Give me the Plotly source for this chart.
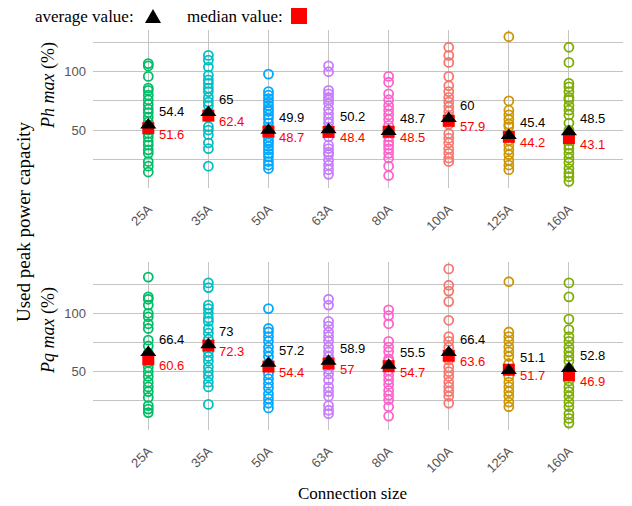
import plotly.graph_objects as go

# Connection sizes and their colours
sizes = ["25A", "35A", "50A", "63A", "80A", "100A", "125A", "160A"]
colors = ["#00BE67", "#00BFC4", "#00A9FF", "#C77CFF",
          "#FF61CC", "#F8766D", "#CD9600", "#7CAE00"]

# Used peak power capacity, Ph max (%)
ph_25A = [107, 105, 96, 86, 84, 80, 76, 72, 68, 65, 61, 57, 54, 52, 50, 47, 44, 40, 37, 33, 30, 23, 19, 14]
ph_35A = [114, 110, 104, 97, 93, 90, 86, 83, 78, 74, 71, 65, 62, 61, 53, 50, 46, 39, 34, 19]
ph_50A = [98, 83, 80, 77, 74, 71, 68, 66, 63, 60, 56, 52, 50, 47, 44, 41, 39, 36, 33, 30, 27, 23, 20, 17]
ph_63A = [105, 100, 84, 81, 78, 76, 73, 68, 64, 60, 56, 52, 49, 44, 37, 34, 31, 29, 24, 20, 16, 12]
ph_80A = [96, 91, 81, 76, 71, 67, 63, 59, 54, 50, 48, 44, 40, 37, 34, 30, 26, 19, 11]
ph_100A = [121, 114, 108, 96, 88, 83, 78, 74, 70, 66, 62, 58, 55, 47, 43, 39, 34, 30, 26, 23]
ph_125A = [130, 75, 67, 63, 59, 55, 53, 46, 44, 41, 37, 33, 29, 24, 20, 16]
ph_160A = [121, 108, 90, 87, 83, 78, 76, 71, 67, 63, 56, 50, 48, 43, 41, 37, 34, 30, 26, 22, 17, 13, 10, 6]
ph_avg = [54.4, 65, 49.9, 50.2, 48.7, 60, 45.4, 48.5]
ph_med = [51.6, 62.4, 48.7, 48.4, 48.5, 57.9, 44.2, 43.1]

# Used peak power capacity, Pq max (%)
pq_25A = [131, 114, 112, 107, 100, 97, 91, 87, 77, 72, 66, 61, 58, 54, 50, 46, 41, 37, 33, 28, 21, 18, 15]
pq_35A = [126, 122, 107, 104, 100, 96, 93, 87, 83, 78, 73, 72, 67, 63, 59, 54, 50, 46, 41, 37, 22]
pq_50A = [104, 87, 84, 80, 76, 71, 67, 63, 57, 54, 48, 44, 40, 36, 31, 27, 23, 19]
pq_63A = [112, 107, 93, 89, 84, 80, 76, 71, 67, 63, 59, 57, 52, 48, 43, 37, 33, 29, 21, 17, 14]
pq_80A = [103, 98, 91, 76, 71, 67, 61, 59, 55, 51, 47, 43, 39, 34, 30, 26, 20, 12]
pq_100A = [138, 124, 119, 110, 94, 80, 76, 71, 66, 64, 60, 54, 50, 46, 41, 37, 33, 29, 23]
pq_125A = [127, 84, 80, 76, 71, 67, 63, 57, 52, 51, 46, 41, 37, 33, 29, 24, 20]
pq_160A = [126, 114, 95, 86, 80, 76, 71, 67, 63, 59, 53, 47, 42, 37, 33, 29, 24, 20, 14, 10, 6]
pq_avg = [66.4, 73, 57.2, 58.9, 55.5, 66.4, 51.1, 52.8]
pq_med = [60.6, 72.3, 54.4, 57, 54.7, 63.6, 51.7, 46.9]

ph_points = [ph_25A, ph_35A, ph_50A, ph_63A, ph_80A, ph_100A, ph_125A, ph_160A]
pq_points = [pq_25A, pq_35A, pq_50A, pq_63A, pq_80A, pq_100A, pq_125A, pq_160A]

SERIF = "Liberation Serif, Times New Roman, serif"
SANS = "Liberation Sans, Arial, sans-serif"

fig = go.Figure()
annotations = []

panels = [
    (ph_points, ph_avg, ph_med, "x", "y"),
    (pq_points, pq_avg, pq_med, "x2", "y2"),
]
for pts, avg, med, xa, ya in panels:
    for cat, col, vals in zip(sizes, colors, pts):
        fig.add_trace(go.Scatter(
            x=[cat] * len(vals), y=vals, mode="markers",
            marker=dict(symbol="circle-open", size=9, color=col,
                        line=dict(width=1.8, color=col)),
            xaxis=xa, yaxis=ya, showlegend=False, hoverinfo="y"))
    fig.add_trace(go.Scatter(
        x=sizes, y=med, mode="markers",
        marker=dict(symbol="square", size=12, color="#FF0000"),
        xaxis=xa, yaxis=ya, showlegend=False))
    fig.add_trace(go.Scatter(
        x=sizes, y=avg, mode="markers",
        marker=dict(symbol="triangle-up", size=14, color="black"),
        xaxis=xa, yaxis=ya, showlegend=False))
    for cat, a, m in zip(sizes, avg, med):
        annotations.append(dict(
            x=cat, y=a, xref=xa, yref=ya, text=f"{a:g}", showarrow=False,
            xanchor="left", yanchor="middle", xshift=9, yshift=13,
            font=dict(family=SANS, size=13, color="black")))
        annotations.append(dict(
            x=cat, y=m, xref=xa, yref=ya, text=f"{m:g}", showarrow=False,
            xanchor="left", yanchor="middle", xshift=9, yshift=-6,
            font=dict(family=SANS, size=13, color="#FF0000")))


def px(xp, yp):
    """Pixel position on the page -> paper coordinates."""
    return (xp - 93) / 530, (430 - yp) / 400


def label(xp, yp, text, size, angle=0, anchor="center"):
    x, y = px(xp, yp)
    return dict(x=x, y=y, xref="paper", yref="paper", text=text,
                showarrow=False, textangle=angle, xanchor=anchor,
                yanchor="middle", font=dict(family=SERIF, size=size, color="black"))


# Axis titles and the marker key
annotations += [
    label(48, 86, "<i>Ph max</i> (%)", 18, -90),
    label(48, 331, "<i>Pq max</i> (%)", 18, -90),
    label(23, 222, "Used peak power capacity", 19, -90),
    label(352, 494, "Connection size", 17),
    label(33, 16, "average value:", 17, anchor="left"),
    label(185, 16, "median value:", 17, anchor="left"),
]

t1, t2, t3 = px(145, 23), px(161, 23), px(153, 9)
s1, s2 = px(291, 8), px(307, 24)
shapes = [
    dict(type="path", xref="paper", yref="paper",
         path=f"M{t1[0]},{t1[1]} L{t2[0]},{t2[1]} L{t3[0]},{t3[1]} Z",
         fillcolor="black", line=dict(width=0)),
    dict(type="rect", xref="paper", yref="paper",
         x0=s1[0], y0=s2[1], x1=s2[0], y1=s1[1],
         fillcolor="#FF0000", line=dict(width=0)),
]

GRID = "#C4C4C4"
xcommon = dict(type="category", categoryorder="array", categoryarray=sizes,
               range=[-0.92, 7.9], showgrid=True, gridcolor=GRID, gridwidth=1.3,
               tickangle=-45, ticks="", showline=False, zeroline=False,
               tickfont=dict(family=SANS, size=13, color="#555555"),
               ticklabelstandoff=10)
ycommon = dict(tickvals=[25, 50, 75, 100, 125],
               ticktext=["", "50", "", "100", ""],
               showgrid=True, gridcolor=GRID, gridwidth=1.3, ticks="",
               showline=False, zeroline=False, ticklabelstandoff=6,
               tickfont=dict(family=SANS, size=13, color="#555555"))

fig.update_layout(
    width=632, height=506,
    margin=dict(l=93, r=9, t=30, b=76),
    plot_bgcolor="white", paper_bgcolor="white",
    xaxis=dict(xcommon, anchor="y"),
    xaxis2=dict(xcommon, anchor="y2"),
    yaxis=dict(ycommon, domain=[0.605, 1.0], range=[0.3, 135.8], anchor="x"),
    yaxis2=dict(ycommon, domain=[0.0, 0.42], range=[0.1, 143.9], anchor="x2"),
    annotations=annotations,
    shapes=shapes,
)

fig.write_html("out.html")
